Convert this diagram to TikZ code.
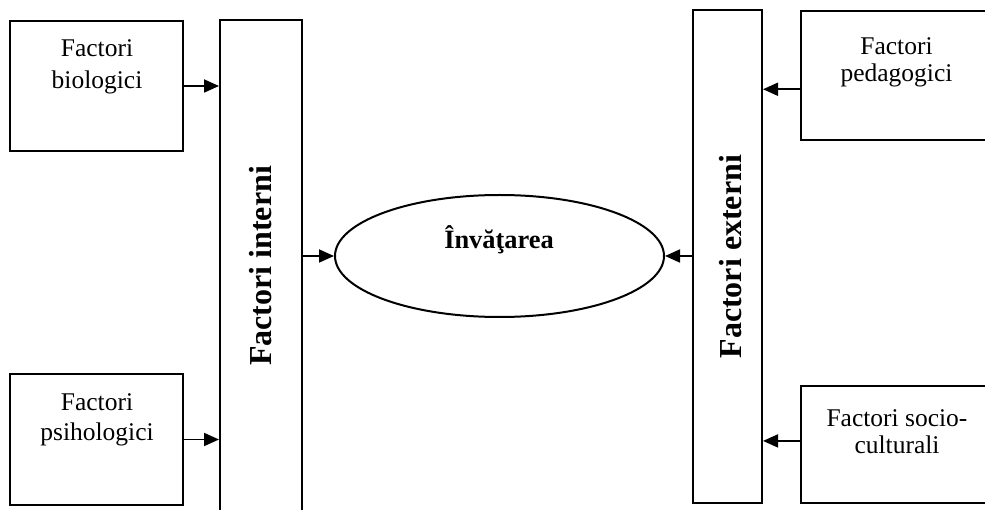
\documentclass[tikz,border=0pt]{standalone}
\usepackage{fontspec}
\setmainfont{Liberation Serif}
\usetikzlibrary{shapes.geometric,arrows.meta,calc}
\begin{document}
\begin{tikzpicture}[x=1pt,y=-1pt,
  box/.style={draw,line width=2pt,inner sep=0pt},
  conn/.style={line width=1.8pt,-{Triangle[length=15pt,width=13pt]}},
  lbl/.style={font=\fontsize{25.5}{#1}\selectfont,align=center,inner sep=0pt,anchor=base},
  vlbl/.style={font=\fontsize{32}{36}\selectfont\bfseries,rotate=90,anchor=base,inner sep=0pt}]
\useasboundingbox (0,0) rectangle (985,510);
\fill[white] (0,0) rectangle (985,510);
\clip (0,0) rectangle (985,510);
% boxes
\node[box,minimum width=173pt,minimum height=130pt] (bio) at (96.5,86) {};
\node[box,minimum width=173pt,minimum height=131pt] (psi) at (96.5,439.5) {};
\node[box,minimum width=82pt,minimum height=510pt] (interni) at (261,275) {};
\node[box,minimum width=69pt,minimum height=493pt] (externi) at (727.5,256.5) {};
\node[box,minimum width=199pt,minimum height=129pt] (ped) at (900.5,75.5) {};
\node[box,minimum width=199pt,minimum height=117pt] (soc) at (900.5,444.5) {};
\node[draw,ellipse,line width=2pt,inner sep=0pt,minimum width=329pt,minimum height=122pt] (ell) at (499.5,256) {};
% texts
\node[lbl=31.5] (tbio) at (97,88.3) {Factori\\biologici};
\node[lbl=30] (tpsi) at (97,440) {Factori\\psihologici};
\node[lbl=26.5] (tped) at (896.5,81.5) {Factori\\pedagogici};
\node[lbl=26.7] (tsoc) at (897,453.3) {Factori socio-\\culturali};
\node[vlbl] (tint) at (271.7,266) {Factori interni};
\node[vlbl] (text) at (741.7,256.7) {Factori externi};
\node[font=\fontsize{26.4}{30}\selectfont\bfseries,anchor=base,inner sep=0pt] (tinv) at (499,249) {Învăţarea};
% connectors
\draw[conn] (bio.east) -- (bio.east -| interni.west);
\draw[conn] (psi.east) -- (psi.east -| interni.west);
\draw[conn] (interni.east |- ell.west) -- (ell.west);
\coordinate (pa) at ($(ped.north west)!0.605!(ped.south west)$);
\draw[conn] (pa) -- (pa -| externi.east);
\coordinate (sa) at ($(soc.north west)!0.47!(soc.south west)$);
\draw[conn] (sa) -- (sa -| externi.east);
\draw[conn] (externi.west |- ell.east) -- (ell.east);
\end{tikzpicture}
\end{document}
